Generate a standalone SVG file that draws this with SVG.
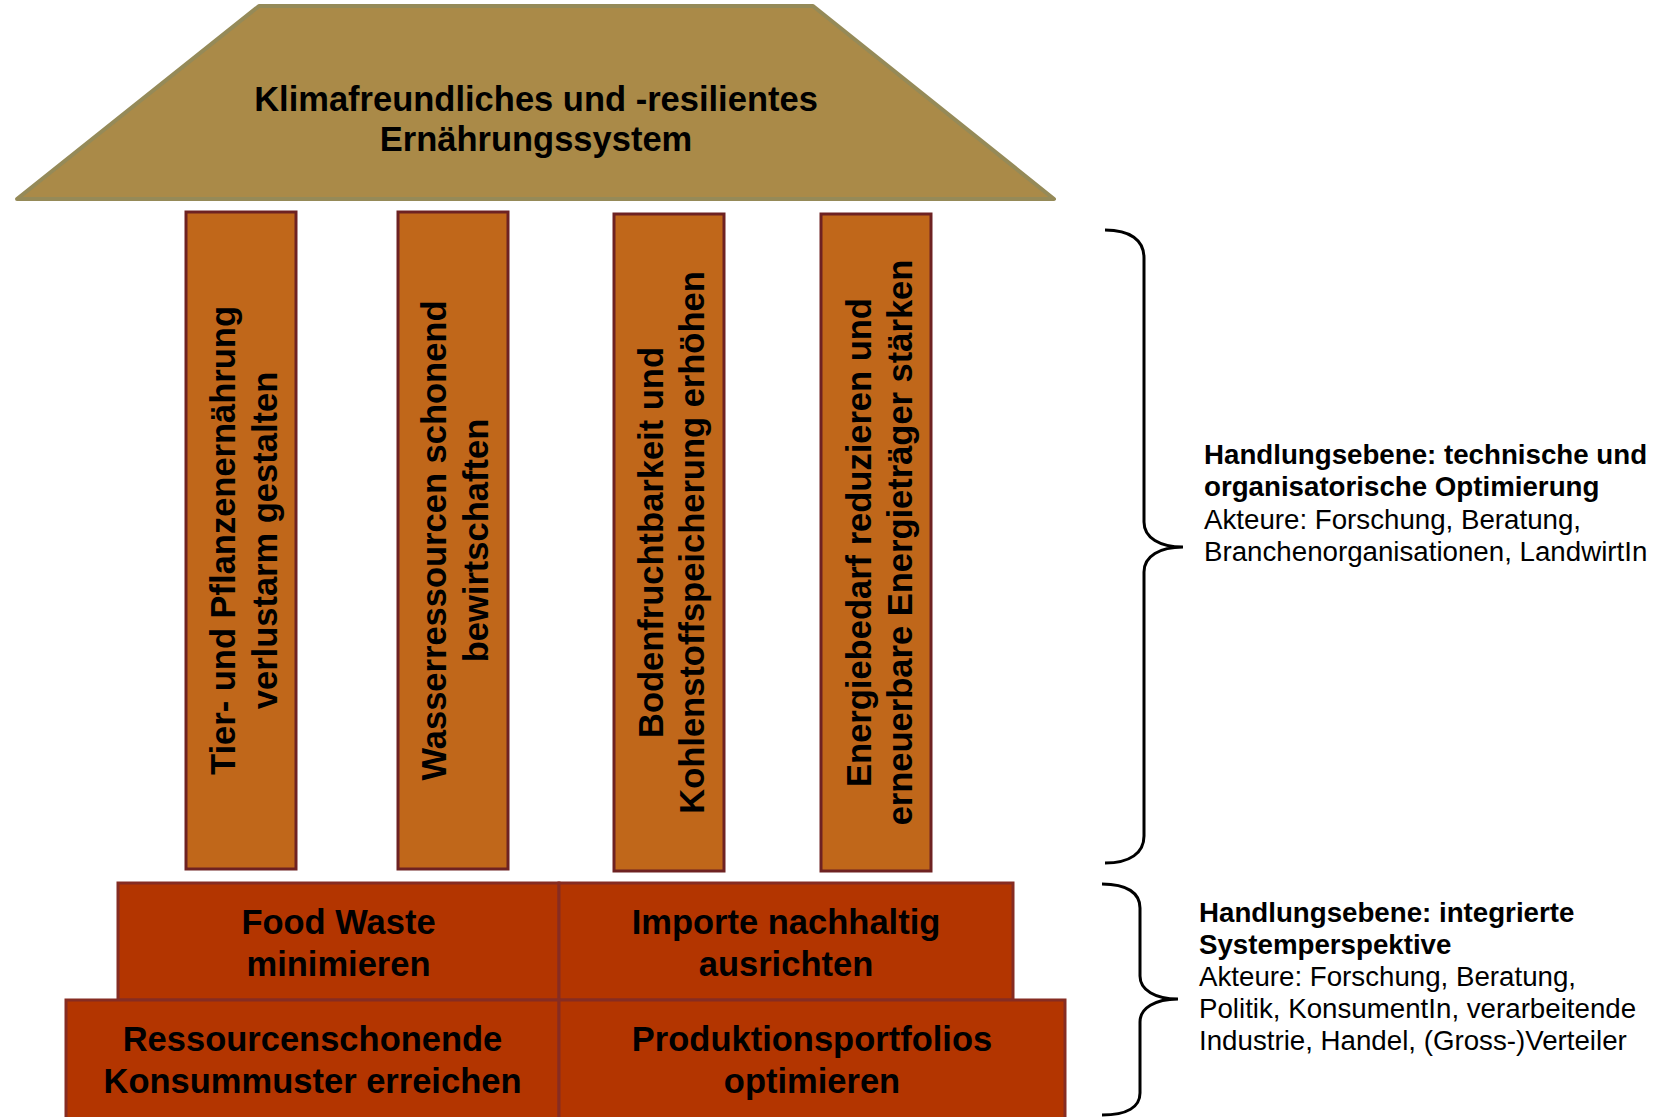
<svg xmlns="http://www.w3.org/2000/svg" width="1678" height="1117" viewBox="0 0 1678 1117">
<style>
.roof{fill:#AA8A48;stroke:#958A58;stroke-width:4;stroke-linejoin:round}
.pillar{fill:#C0671A;stroke:#6E2222;stroke-width:3}
.base{fill:#B33500;stroke:#862C22;stroke-width:3}
.t{font-family:"Liberation Sans",Arial,sans-serif;font-weight:bold;font-size:34.5px;fill:#000;text-anchor:middle}
.s{font-family:"Liberation Sans",Arial,sans-serif;font-size:27.7px;fill:#000}
.sb{font-weight:bold}
.brace{fill:none;stroke:#000;stroke-width:3}
</style>
<rect width="1678" height="1117" fill="#fff"/>
<g id="roof">
<polygon class="roof" points="259,6 813,6 1054,199 17,199"/>
<text class="t" x="536" y="111">Klimafreundliches und -resilientes</text>
<text class="t" x="536" y="151">Ernährungssystem</text>
</g>
<g id="pillar1">
<rect class="pillar" x="186" y="212" width="110" height="657"/>
<text class="t" transform="translate(235,540.5) rotate(-90)">Tier- und Pflanzenernährung</text>
<text class="t" transform="translate(277,540.5) rotate(-90)">verlustarm gestalten</text>
</g>
<g id="pillar2">
<rect class="pillar" x="398" y="212" width="110" height="657"/>
<text class="t" transform="translate(446,540.5) rotate(-90)">Wasserressourcen schonend</text>
<text class="t" transform="translate(488,540.5) rotate(-90)">bewirtschaften</text>
</g>
<g id="pillar3">
<rect class="pillar" x="614" y="214" width="110" height="657"/>
<text class="t" transform="translate(663,542.5) rotate(-90)">Bodenfruchtbarkeit und</text>
<text class="t" transform="translate(704,542.5) rotate(-90)">Kohlenstoffspeicherung erhöhen</text>
</g>
<g id="pillar4">
<rect class="pillar" x="821" y="214" width="110" height="657"/>
<text class="t" transform="translate(871,542.5) rotate(-90)">Energiebedarf reduzieren und</text>
<text class="t" transform="translate(912,542.5) rotate(-90)">erneuerbare Energieträger stärken</text>
</g>
<g id="base-food-waste">
<rect class="base" x="118" y="883" width="441" height="117"/>
<text class="t" x="338.5" y="934">Food Waste</text>
<text class="t" x="338.5" y="976">minimieren</text>
</g>
<g id="base-importe">
<rect class="base" x="559" y="883" width="454" height="117"/>
<text class="t" x="786" y="934">Importe nachhaltig</text>
<text class="t" x="786" y="976">ausrichten</text>
</g>
<g id="base-konsum">
<rect class="base" x="66" y="1000" width="493" height="122"/>
<text class="t" x="312.5" y="1051">Ressourcenschonende</text>
<text class="t" x="312.5" y="1093">Konsummuster erreichen</text>
</g>
<g id="base-produktion">
<rect class="base" x="559" y="1000" width="506" height="122"/>
<text class="t" x="812" y="1051">Produktionsportfolios</text>
<text class="t" x="812" y="1093">optimieren</text>
</g>
<g id="connectors">
<path class="brace" d="M1105,230 C1130,230 1144,240 1144,258 L1144,522 C1144,538 1160,547 1183,547 C1160,547 1144,556 1144,572 L1144,836 C1144,853 1130,863 1105,863"/>
<path class="brace" d="M1102,884 C1127,884 1140,893 1140,908 L1140,976 C1140,990 1155,999 1178,999 C1155,999 1140,1008 1140,1022 L1140,1093 C1140,1107 1127,1115 1102,1115"/>
</g>
<g id="label-upper">
<text class="s sb" x="1204" y="464">Handlungsebene: technische und</text>
<text class="s sb" x="1204" y="496">organisatorische Optimierung</text>
<text class="s" x="1204" y="529">Akteure: Forschung, Beratung,</text>
<text class="s" x="1204" y="561">Branchenorganisationen, LandwirtIn</text>
</g>
<g id="label-lower">
<text class="s sb" x="1199" y="922">Handlungsebene: integrierte</text>
<text class="s sb" x="1199" y="954">Systemperspektive</text>
<text class="s" x="1199" y="986">Akteure: Forschung, Beratung,</text>
<text class="s" x="1199" y="1018">Politik, KonsumentIn, verarbeitende</text>
<text class="s" x="1199" y="1050">Industrie, Handel, (Gross-)Verteiler</text>
</g>
</svg>
